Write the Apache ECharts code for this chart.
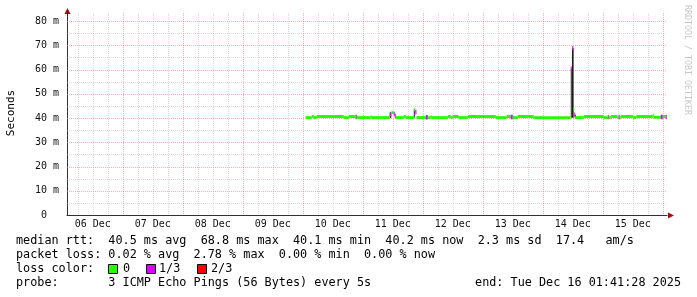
<!DOCTYPE html>
<html><head><meta charset="utf-8">
<script src="https://cdn.jsdelivr.net/npm/echarts@6/dist/echarts.min.js"></script>
<style>html,body{margin:0;padding:0;background:#fff}#c{width:697px;height:297px}</style>
</head><body><div id="c"></div>
<script>
// ---------- data (times are "DD HH:MM[:SS]" in Dec 2025) ----------
const axisStart = '06 01:41:28';
const axisEnd = '16 01:41:28';
const dayLabels = ['06 Dec','07 Dec','08 Dec','09 Dec','10 Dec','11 Dec','12 Dec','13 Dec','14 Dec','15 Dec'];
const dayNumbers = [6,7,8,9,10,11,12,13,14,15];
const yTicks = [0,10,20,30,40,50,60,70,80];
const yMinorTicks = [5,15,25,35,45,55,65,75];
const yMax = 83.3; // ms

// median rtt segments (ms) and lost pings (of 3)
const medStart = ['10 01:12','10 03:36','10 04:24','10 05:36','10 16:24','10 18:24','10 21:12','10 21:36','11 03:12','11 03:36',
  '11 10:48','11 11:24','11 12:24','11 12:48','11 13:12','11 16:24','11 17:12','11 20:36','11 21:00','11 21:28',
  '12 01:12','12 02:00','12 03:12','12 03:36','12 10:00','12 11:12','12 12:00','12 14:24','12 18:00','13 05:12',
  '13 09:36','13 11:12','13 12:00','13 14:00','13 20:24','14 11:12','14 11:48','14 12:12','14 12:36','14 13:00',
  '14 16:24','15 00:24','15 02:00','15 02:24','15 03:12','15 06:00','15 06:24','15 06:48','15 07:12','15 12:12',
  '15 13:24','15 20:00','15 20:24','15 23:12','16 00:00','16 01:12'];
const medEnd = ['10 03:36','10 04:24','10 05:36','10 16:24','10 18:24','10 21:12','10 21:36','11 03:12','11 03:36','11 10:48',
  '11 11:24','11 12:24','11 12:48','11 13:12','11 16:24','11 17:12','11 20:36','11 21:00','11 21:28','12 01:12',
  '12 02:00','12 03:12','12 03:36','12 10:00','12 11:12','12 12:00','12 14:24','12 18:00','13 05:12','13 09:36',
  '13 11:12','13 12:00','13 14:00','13 20:24','14 11:12','14 11:36','14 12:12','14 12:36','14 13:00','14 16:24',
  '15 00:24','15 02:00','15 02:24','15 03:12','15 06:00','15 06:24','15 06:48','15 07:12','15 12:12','15 13:24',
  '15 20:00','15 20:24','15 23:12','16 00:00','16 01:12','16 01:36'];
const medValue = [40.15,40.6,40.15,40.6,40.15,40.6,40.4,40.15,40.5,40.15,
  41.5,42.2,41.6,40.8,40.15,40.6,40.15,43.5,42.4,40.15,
  40.3,40.15,40.5,40.15,40.6,40.15,40.6,40.15,40.6,40.15,
  40.6,40.4,40.15,40.6,40.15,60.3,68.8,43.8,41.3,40.15,
  40.6,40.15,40.4,40.15,40.6,40.15,40.4,40.15,40.6,40.15,
  40.6,41.0,40.3,40.4,40.6,40.4];
const medLoss = [0,0,0,0,0,0,1,0,0,0,
  1,0,1,1,0,0,0,0,1,0,
  1,0,0,0,0,0,0,0,0,0,
  0,1,0,0,0,1,1,0,1,0,
  0,0,1,0,0,0,1,0,0,0,
  0,0,0,1,0,1];

// smoke (ping spread) columns
const smokeStart = ['11 10:48','11 20:24','14 11:12','14 11:40','14 12:48'];
const smokeEnd   = ['11 11:24','11 20:48','14 11:36','14 12:20','14 13:12'];
const smokeMin   = [40.1,40.1,40.1,40.1,40.1];
const smokeMax   = [42.2,43.6,60.3,68.8,41.3];

// legend texts
const rttLabel = 'median rtt:';
const rttItems = ['40.5 ms avg','68.8 ms max','40.1 ms min','40.2 ms now','2.3 ms sd','17.4   am/s'];
const lossLabel = 'packet loss:';
const lossItems = ['0.02 % avg','2.78 % max','0.00 % min','0.00 % now'];
const lossColorLabel = 'loss color:';
const lossNames = ['0','1/3','2/3'];
const lossColors = ['#26ff00','#d800ff','#ff0000'];
const probeLabel = 'probe:';
const probeText = '3 ICMP Echo Pings (56 Bytes) every 5s';
const endText = 'end: Tue Dec 16 01:41:28 2025';
const yTitle = 'Seconds';
const watermark = 'RRDTOOL / TOBI OETIKER';

// ---------- helpers ----------
function hrs(s){ const [d,t]=s.split(' '); const p=t.split(':').map(Number); return (Number(d)-6)*24+p[0]+p[1]/60+(p[2]||0)/3600; }
function pad(s,n){ while(s.length<n) s+=' '; return s; }
const MONO='"DejaVu Sans Mono", "Liberation Mono", monospace';
const MAJOR='rgba(232,140,140,0.65)';
const MINOR='rgba(175,175,175,0.45)';

const xMin=hrs(axisStart), xMax=hrs(axisEnd);
const vGrid=[]; for(let h=6;h<xMax;h+=6){ if(h>xMin) vGrid.push([h,0,h%24===0?1:0]); }
const hGrid=[]; yTicks.forEach(v=>{ if(v>0) hGrid.push([xMin,v,1]); }); yMinorTicks.forEach(v=>hGrid.push([xMin,v,0]));
const labelData=dayNumbers.map((d,i)=>[(d-6)*24+12,0,i]);
const medData=medStart.map((s,i)=>[hrs(s),hrs(medEnd[i]),medValue[i],medLoss[i]]);
const smokeData=smokeStart.map((s,i)=>[hrs(s),hrs(smokeEnd[i]),smokeMin[i],smokeMax[i]]);

const chart=echarts.init(document.getElementById('c'),null,{renderer:'canvas'});
const FONT='11.8px '+MONO;
const rowY=[241,255,269,283];
const boxX=[108,146,197], nameX=[123,159,211];
const graphic=[];
function txt(x,y,t,align){ graphic.push({type:'text',x:x,y:y,silent:true,style:{text:t,font:FONT,fill:'#000',align:align||'left',verticalAlign:'middle'}}); }
txt(16,rowY[0],pad(rttLabel,13)+rttItems.join('  '));
txt(16,rowY[1],pad(lossLabel,13)+lossItems.join('  '));
txt(16,rowY[2],lossColorLabel);
lossNames.forEach((n,i)=>{
  graphic.push({type:'rect',silent:true,shape:{x:boxX[i]+0.5,y:rowY[2]-4.5,width:9,height:9},style:{fill:lossColors[i],stroke:'#000',lineWidth:1}});
  txt(nameX[i],rowY[2],n);
});
txt(16,rowY[3],pad(probeLabel,13)+probeText);
txt(681,rowY[3],endText,'right');
graphic.push({type:'text',x:11,y:113,rotation:Math.PI/2,silent:true,style:{text:yTitle,font:'11px '+MONO,fill:'#000',align:'center',verticalAlign:'middle'}});
graphic.push({type:'text',x:687,y:60,rotation:-Math.PI/2,silent:true,style:{text:watermark,font:'8.3px '+MONO,fill:'#c8c8c8',align:'center',verticalAlign:'middle'}});
graphic.push({type:'polygon',silent:true,shape:{points:[[67.5,8],[64.5,14],[70.5,14]]},style:{fill:'#9a1010'}});
graphic.push({type:'polygon',silent:true,shape:{points:[[674,215.5],[668,212.5],[668,218.5]]},style:{fill:'#9a1010'}});

chart.setOption({
  animation:false,
  backgroundColor:'#fff',
  grid:{left:67,right:30,top:13,bottom:82,containLabel:false},
  xAxis:{type:'value',min:xMin,max:xMax,axisLabel:{show:false},axisTick:{show:false},splitLine:{show:false},
    axisLine:{show:true,onZero:false,lineStyle:{color:'#303030',width:1}}},
  yAxis:{type:'value',min:0,max:yMax,interval:10,splitLine:{show:false},axisTick:{show:false},
    axisLine:{show:true,lineStyle:{color:'#303030',width:1}},
    axisLabel:{margin:8,color:'#111',fontFamily:'DejaVu Sans Mono',fontSize:10,
      formatter:v=>{ if(Math.abs(v-Math.round(v/10)*10)>1e-6) return ''; return v===0?'0  ':v+' m'; }}},
  graphic:graphic,
  series:[
    {type:'custom',name:'vgrid',z:1,silent:true,clip:false,data:vGrid,
      renderItem:(params,api)=>{ const cs=params.coordSys; const p=api.coord([api.value(0),0]); const x=Math.round(p[0])+0.5;
        return {type:'line',shape:{x1:x,y1:cs.y,x2:x,y2:cs.y+cs.height},style:{stroke:api.value(2)?MAJOR:MINOR,lineWidth:1,lineDash:[1,1]}}; }},
    {type:'custom',name:'hgrid',z:1,silent:true,clip:false,data:hGrid,
      renderItem:(params,api)=>{ const cs=params.coordSys; const p=api.coord([api.value(0),api.value(1)]); const y=Math.round(p[1])+0.5;
        return {type:'line',shape:{x1:cs.x,y1:y,x2:cs.x+cs.width,y2:y},style:{stroke:api.value(2)?MAJOR:MINOR,lineWidth:1,lineDash:[1,1]}}; }},
    {type:'custom',name:'xlabels',z:2,silent:true,clip:false,data:labelData,
      renderItem:(params,api)=>{ const p=api.coord([api.value(0),0]);
        return {type:'text',x:p[0],y:p[1]+9.5,style:{text:dayLabels[api.value(2)],font:'10px '+MONO,fill:'#111',align:'center',verticalAlign:'middle'}}; }},
    {type:'custom',name:'smoke',z:3,silent:true,clip:true,data:smokeData,
      renderItem:(params,api)=>{ const a=api.coord([api.value(0),api.value(3)]); const b=api.coord([api.value(1),api.value(2)]);
        return {type:'rect',shape:{x:a[0],y:a[1],width:Math.max(b[0]-a[0],1),height:b[1]-a[1]},style:{fill:'#202020'}}; }},
    {type:'custom',name:'median',z:4,silent:true,clip:true,data:medData,
      renderItem:(params,api)=>{ const a=api.coord([api.value(0),api.value(2)]); const b=api.coord([api.value(1),api.value(2)]);
        const loss=api.value(3); const h=loss?4.5:3;
        return {type:'rect',shape:{x:a[0],y:a[1]-h/2,width:Math.max(b[0]-a[0],1),height:h},style:{fill:lossColors[loss]}}; }}
  ]
});
</script></body></html>
